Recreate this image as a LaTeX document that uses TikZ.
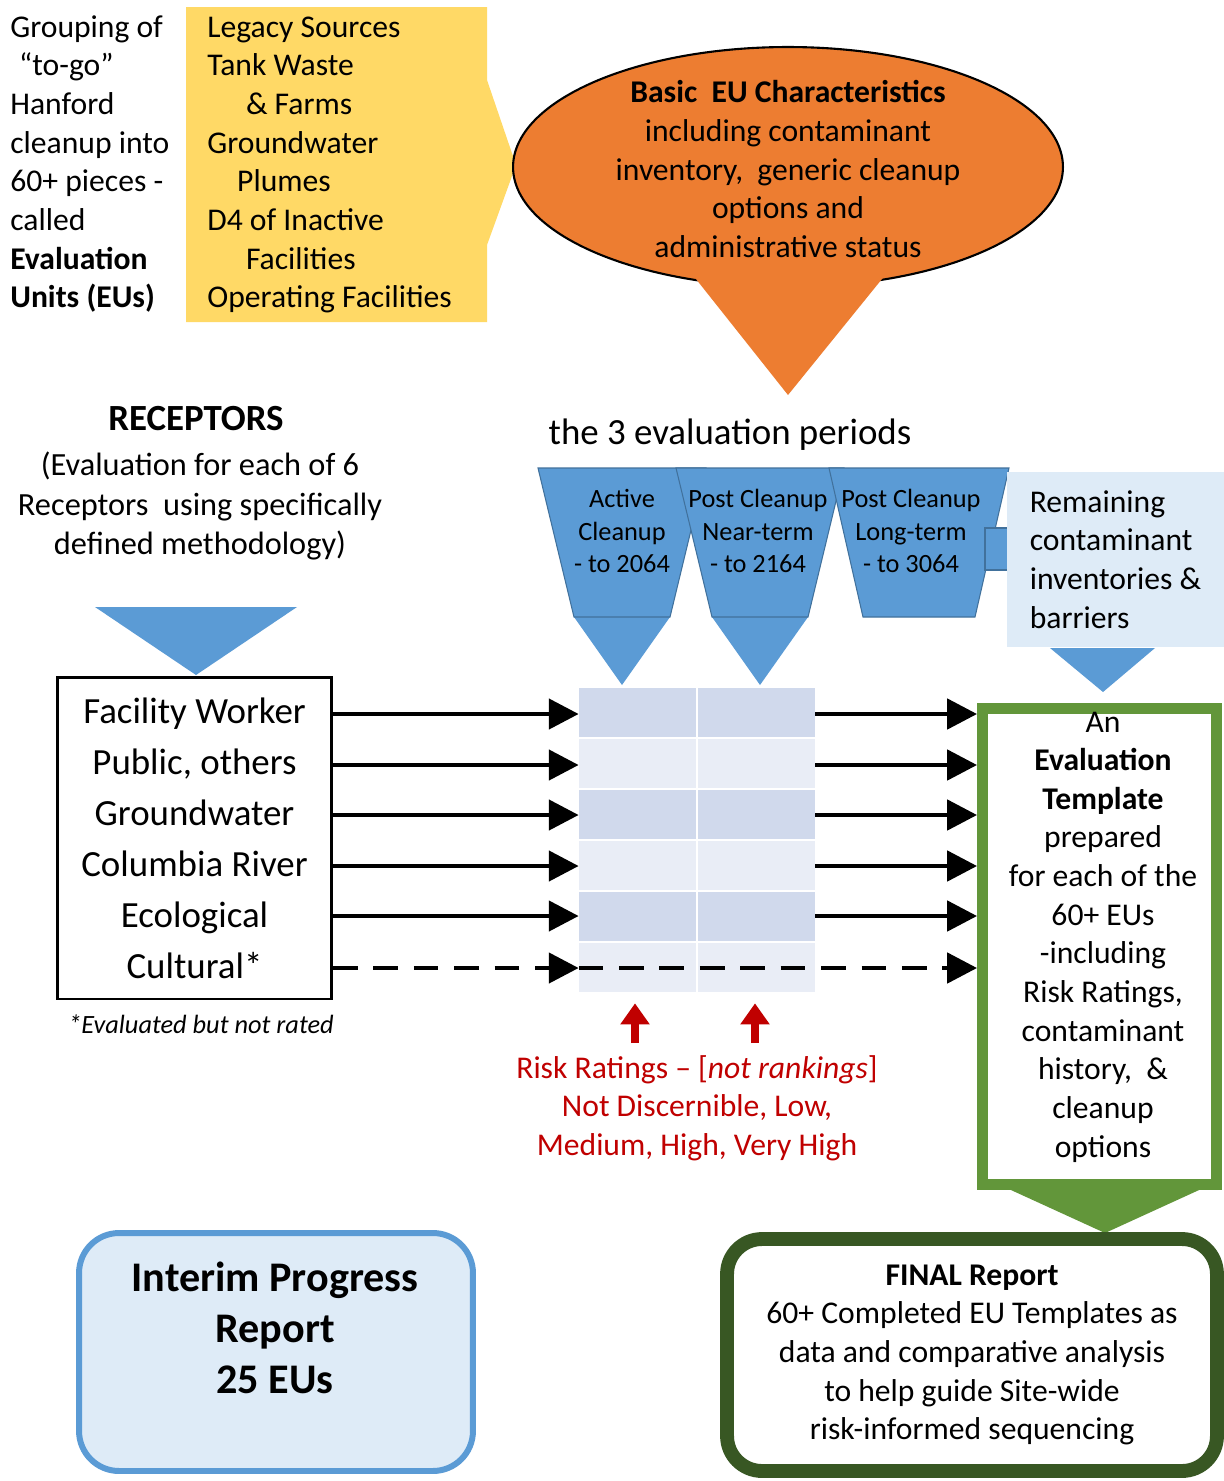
\documentclass[tikz,border=0pt]{standalone}
\usepackage{fontspec}
\setmainfont{Carlito}
\usetikzlibrary{arrows.meta,shapes.geometric}
\definecolor{eublue}{RGB}{91,155,213}
\definecolor{eubluedark}{RGB}{65,113,156}
\definecolor{paleblue}{RGB}{222,235,247}
\definecolor{griddark}{RGB}{208,217,236}
\definecolor{gridlight}{RGB}{233,237,246}
\definecolor{legacyyellow}{RGB}{255,217,102}
\definecolor{basicorange}{RGB}{237,125,49}
\definecolor{tmplgreen}{RGB}{98,150,58}
\definecolor{finalgreen}{RGB}{56,87,35}
\definecolor{riskred}{RGB}{192,0,0}
\tikzset{
  flow/.style={-{Triangle[length=17pt,width=17pt]}, line width=2.8pt, draw=black},
  dashflow/.style={flow, dash pattern=on 14pt off 9pt},
  riskup/.style={-{Triangle[length=12pt,width=16pt]}, line width=4pt, draw=riskred},
  bodytext/.style={font=\fontsize{18}{22}\selectfont, inner sep=0pt},
  periodshape/.style={fill=eublue, draw=eubluedark, line width=0.6pt},
  periodtext/.style={font=\fontsize{15}{18.4}\selectfont, inner sep=0pt, align=center},
  recbox/.style={
    draw=black, line width=1.4pt, fill=white, align=center,
    font=\fontsize{21}{29}\selectfont,
    minimum width=5.49cm, minimum height=6.43cm, inner sep=0pt
  },
  tmplbox/.style={
    draw=tmplgreen, line width=6.2pt, fill=white,
    minimum width=4.68cm, minimum height=9.52cm
  },
  remainbox/.style={
    fill=paleblue, align=left, font=\fontsize{18}{22}\selectfont,
    minimum width=4.34cm, minimum height=3.5cm, inner sep=0pt
  },
  interimbox/.style={
    draw=eublue, line width=3.4pt, fill=paleblue, rounded corners=0.8cm,
    minimum width=7.88cm, minimum height=4.76cm
  },
  finalbox/.style={
    draw=finalgreen, line width=7.9pt, fill=white, rounded corners=0.7cm,
    align=center, font=\fontsize{18}{22}\selectfont,
    minimum width=9.8cm, minimum height=4.64cm, inner sep=0pt
  }
}

\begin{document}
\begin{tikzpicture}[x=0.02cm, y=-0.02cm]

\fill[white] (0,0) rectangle (1224,1481);
\useasboundingbox (0,0) rectangle (1224,1481);

%--------------------------------------------------
% Top: grouping text, legacy sources, EU characteristics
%--------------------------------------------------
\node[bodytext, anchor=west, align=left] (grouping) at (10,164)
{Grouping of\\\hspace*{5pt}“to-go”\\Hanford\\cleanup into\\60+ pieces -\\called\\\textbf{Evaluation}\\\textbf{Units (EUs)}};

\fill[legacyyellow] (186,7) -- (487,7) -- (487,80) -- (516,165) -- (487,245)
  -- (487,322) -- (186,322) -- cycle;

\node[bodytext, anchor=west, align=left] (legacy) at (207,165)
{Legacy Sources\\Tank Waste\\\hspace*{22pt}\& Farms\\Groundwater\\\hspace*{17pt}Plumes\\D4 of Inactive\\\hspace*{22pt}Facilities\\Operating Facilities};

\node[ellipse, draw=black, line width=1.2pt, fill=basicorange,
      minimum width=11cm, minimum height=4.8cm] (basic) at (788,167) {};
\fill[basicorange] (692,274) -- (886,274) -- (788,395) -- cycle;

\node[bodytext, align=center] (basictext) at (788,169)
{\textbf{Basic~ EU Characteristics}\\including contaminant\\inventory,~ generic cleanup\\options and\\administrative status};

%--------------------------------------------------
% Receptors
%--------------------------------------------------
\node[font=\bfseries\fontsize{21}{25}\selectfont, inner sep=0pt] (rectitle) at (196,419) {RECEPTORS};
\node[font=\fontsize{18.4}{22.7}\selectfont, inner sep=0pt, align=center] (recdesc) at (200,506)
{(Evaluation for each of 6\\Receptors~ using specifically\\defined methodology)};

\fill[eublue] (95,607) -- (297,607) -- (196,675) -- cycle;

\node[recbox] (receptors) at (194.5,838)
{Facility Worker\\Public, others\\Groundwater\\Columbia River\\Ecological\\Cultural*};

\node[font=\itshape\fontsize{15}{18}\selectfont, inner sep=0pt] (recnote) at (201,1024) {*Evaluated but not rated};

%--------------------------------------------------
% Evaluation periods
%--------------------------------------------------
\node[font=\fontsize{21}{25}\selectfont, inner sep=0pt] (periodtitle) at (730,435) {the 3 evaluation periods};

\foreach \cx/\tw/\bw/\tip in {622/84/48/1, 760/84/48/1, 919/90/56/0} {
  \ifnum\tip=1
    \fill[eublue] ({\cx-\bw},617) -- ({\cx+\bw},617) -- (\cx,685) -- cycle;
  \fi
  \filldraw[periodshape] ({\cx-\tw},468) -- ({\cx+\tw},468) -- ({\cx+\bw},617)
    -- ({\cx-\bw},617) -- cycle;
}
\filldraw[periodshape] (985,528) rectangle (1009,570);

\node[periodtext] (active) at (622,531) {Active\\Cleanup\\- to 2064};
\node[periodtext] (nearterm) at (758,531) {Post Cleanup\\Near-term\\- to 2164};
\node[periodtext] (longterm) at (911,531) {Post Cleanup\\Long-term\\- to 3064};

\node[remainbox] (remaining) at (1115.5,559.5)
{Remaining\\contaminant\\inventories \&\\barriers};
\fill[eublue] (1050,648) -- (1155,648) -- (1103,692) -- cycle;

%--------------------------------------------------
% Rating grid
%--------------------------------------------------
\foreach \r/\shade in {0/griddark, 1/gridlight, 2/griddark, 3/gridlight, 4/griddark, 5/gridlight} {
  \fill[\shade] (579,688+51*\r) rectangle (696,737+51*\r);
  \fill[\shade] (698,688+51*\r) rectangle (815,737+51*\r);
}
\node[inner sep=0pt, minimum width=4.72cm, minimum height=6.08cm] (grid) at (697,840) {};

%--------------------------------------------------
% Evaluation template
%--------------------------------------------------
\node[tmplbox] (template) at (1099.5,946.5) {};
\node[bodytext, align=center] (tmpltext) at (1103,937)
{An\\\textbf{Evaluation}\\\textbf{Template}\\prepared\\for each of the\\60+ EUs\\-including\\Risk Ratings,\\contaminant\\history,~ \&\\cleanup\\options};

% arrows through the grid
\foreach \y in {714,765,815,866,916} {
  \draw[flow] (receptors.east |- 0,\y) -- (grid.west |- 0,\y);
  \draw[flow] (grid.east |- 0,\y) -- (template.west |- 0,\y);
}
\draw[dashflow] (receptors.east |- 0,968) -- (grid.west |- 0,968);
\draw[dashflow] (grid.west |- 0,968) -- (template.west |- 0,968);

%--------------------------------------------------
% Risk ratings
%--------------------------------------------------
\foreach \x in {635,755}
  \draw[riskup, shorten >=0.22cm] (\x,1043) -- (grid.south -| \x,0);

\node[bodytext, align=center, text=riskred] (risknote) at (697,1108)
{Risk Ratings -- [\textit{not rankings}]\\Not Discernible, Low,\\Medium, High, Very High};

%--------------------------------------------------
% Reports
%--------------------------------------------------
\node[interimbox] (interim) at (276,1352) {};
\node[font=\bfseries\fontsize{24}{29}\selectfont, inner sep=0pt, align=center] (interimtext) at (275,1328)
{Interim Progress\\Report\\25 EUs};

\fill[tmplgreen] (1000,1185) -- (1210,1185) -- (1105,1233) -- cycle;

\node[finalbox] (final) at (972,1355)
{\textbf{FINAL Report}\\60+ Completed EU Templates as\\data and comparative analysis\\to help guide Site-wide\\risk-informed sequencing};

\end{tikzpicture}
\end{document}
